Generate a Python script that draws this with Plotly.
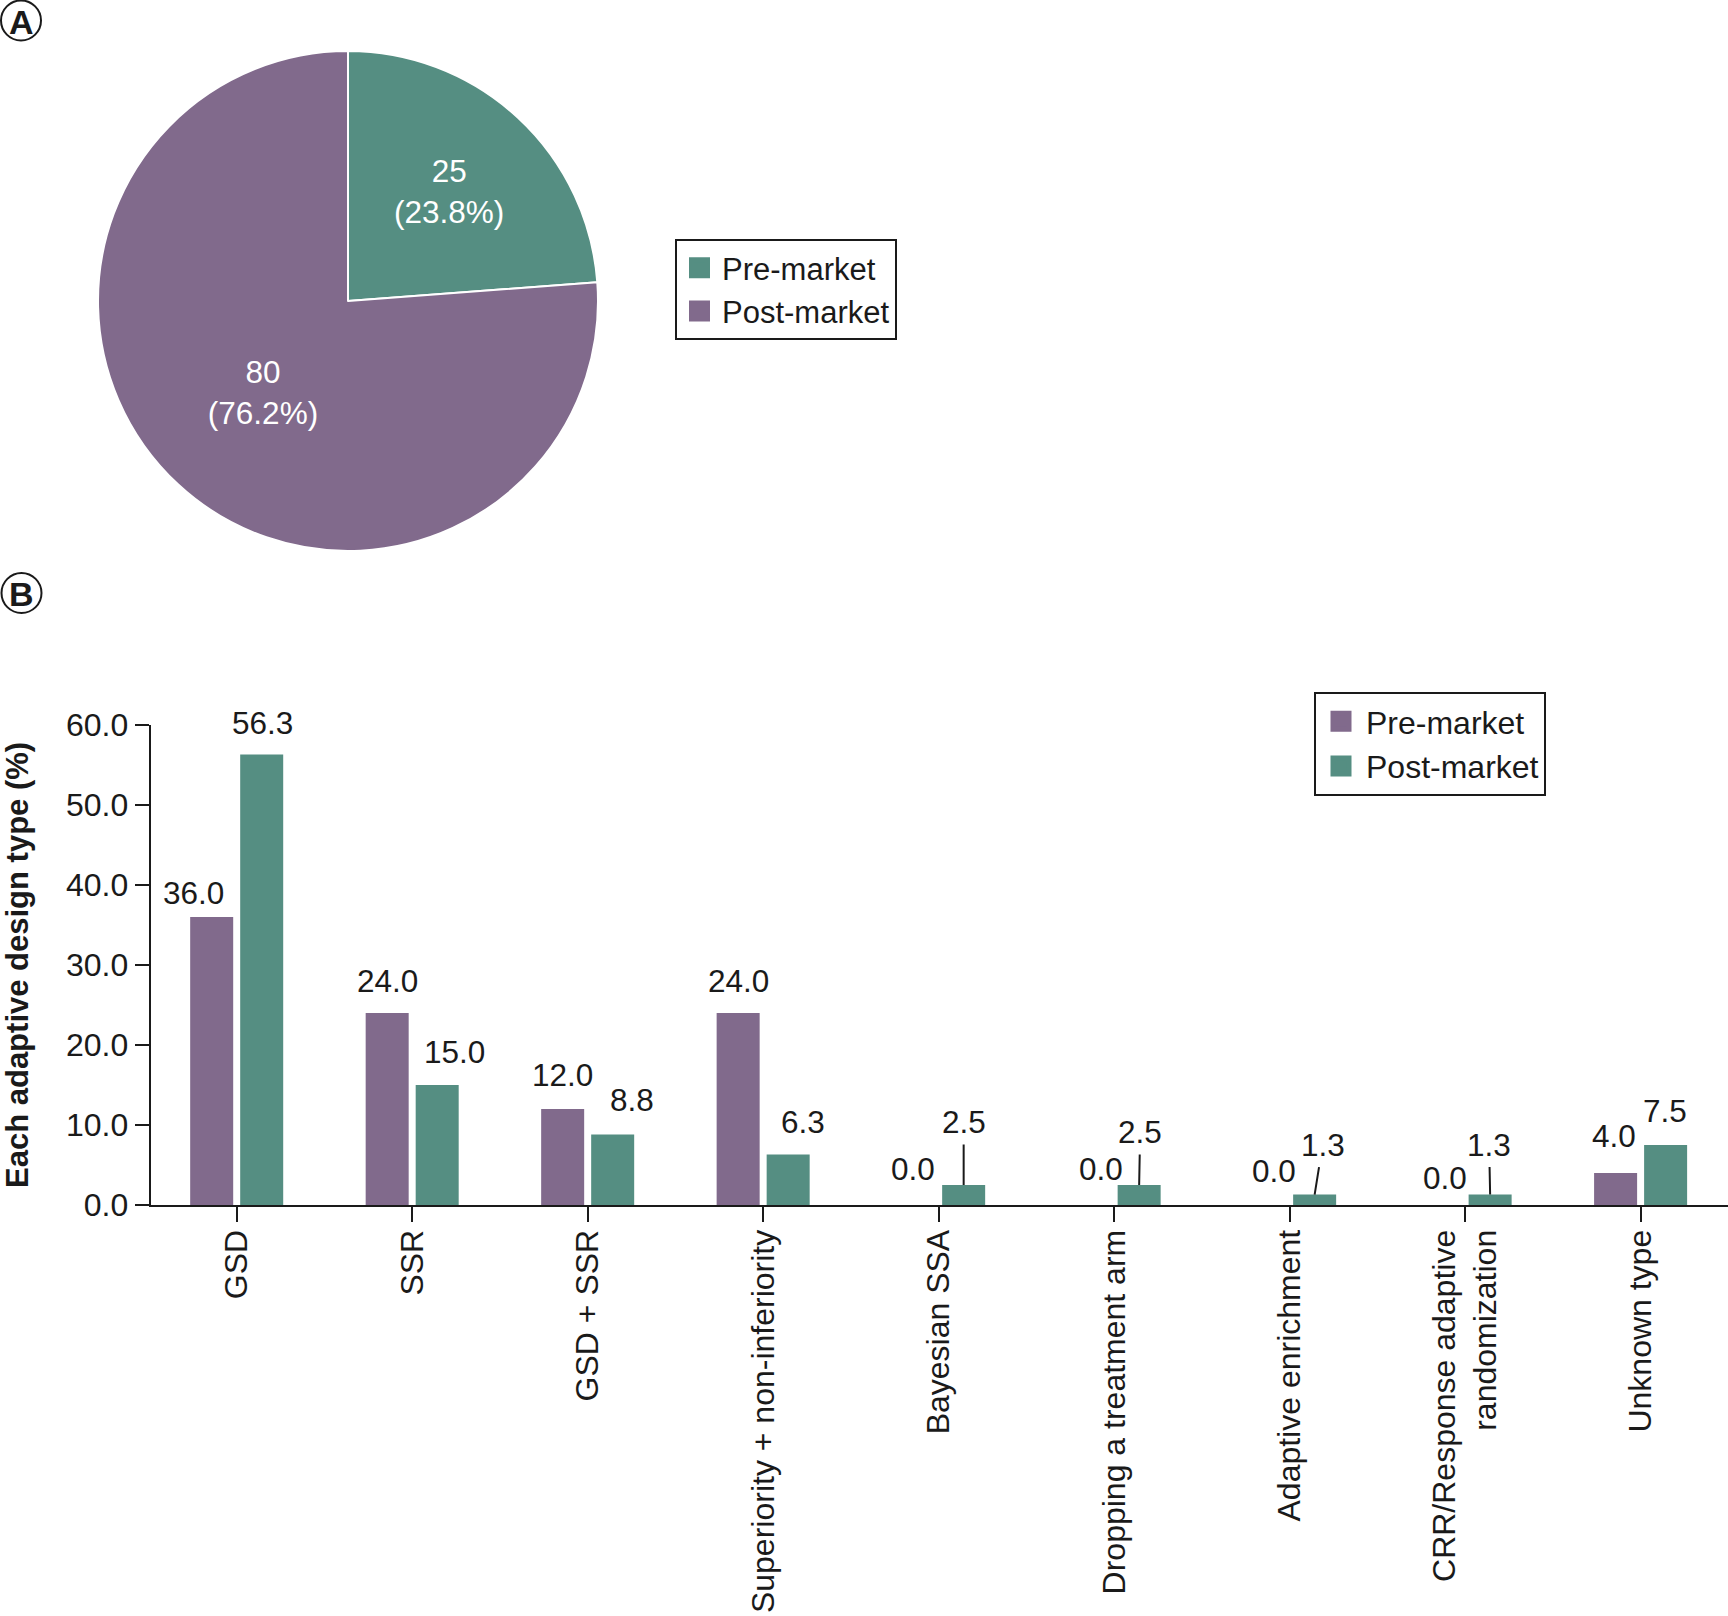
import plotly.graph_objects as go

W, H = 1728, 1616

# ---------------- data ----------------
# Panel A
pie_labels = ["Pre-market", "Post-market"]
pie_values = [25, 80]

# Panel B
categories = ["GSD", "SSR", "GSD + SSR", "Superiority + non-inferiority", "Bayesian SSA",
              "Dropping a treatment arm", "Adaptive enrichment",
              "CRR/Response adaptive<br>randomization", "Unknown type"]
pre_market = [36.0, 24.0, 12.0, 24.0, 0.0, 0.0, 0.0, 0.0, 4.0]
post_market = [56.3, 15.0, 8.8, 6.3, 2.5, 2.5, 1.3, 1.3, 7.5]
y_ticks = [0, 10, 20, 30, 40, 50, 60]
series_names = ["Pre-market", "Post-market"]
y_title = "Each adaptive design type (%)"

# ---------------- style / layout ----------------
PURPLE = "#816a8c"
GREEN = "#558e82"
INK = "#1a1a1a"
FONT = "Liberation Sans, Arial, Helvetica, sans-serif"
FS = 31.5
FS_TICK = 32

def px(x):
    return x / W

def py(y):
    return 1 - y / H

# label offsets in pixels (dx, dy) relative to bar centre / bar top
pre_offsets = [(-18, 24), (0, 32), (0, 34), (0, 32), (-1, 36), (12, 36), (9, 34), (5, 27), (-2, 37)]
post_leader = [False, False, False, False, True, True, True, True, False]
post_offsets = [(1, 32), (17, 33), (19, 35), (15, 33), (0, -63), (1, -53), (8, -50), (-1, -50), (-1, 34)]

x_dom = [150.7 / W, 1.0]
y_dom = [py(1205), py(725)]
x_range = [-0.49, 8.498]
BARGAP = 0.43
GROUPGAP = 0.14
spacing = W * (x_dom[1] - x_dom[0]) / (x_range[1] - x_range[0])
half_slot = (1 - BARGAP) * spacing / 4.0

fig = go.Figure()

# Pie (panel A)
fig.add_trace(go.Pie(
    labels=pie_labels, values=pie_values, sort=False, direction="clockwise", rotation=0,
    marker=dict(colors=[GREEN, PURPLE], line=dict(color="white", width=2)),
    texttemplate="%{value}<br>(%{percent:.1%})", textposition="inside",
    insidetextorientation="horizontal",
    textfont=dict(color="white", size=FS, family=FONT),
    domain=dict(x=[px(98), px(598)], y=[py(551), py(51)]),
    showlegend=False, hoverinfo="label+value+percent",
))

# Bars (panel B)
fig.add_trace(go.Bar(x=categories, y=pre_market, name=series_names[0],
                     marker=dict(color=PURPLE, line=dict(width=0)), showlegend=False))
fig.add_trace(go.Bar(x=categories, y=post_market, name=series_names[1],
                     marker=dict(color=GREEN, line=dict(width=0)), showlegend=False))

# Legend entries
for name, col in zip(pie_labels, [GREEN, PURPLE]):
    fig.add_trace(go.Scatter(x=[None], y=[None], mode="markers", name=name, legend="legend",
                             marker=dict(symbol="square", size=16, color=col,
                                         line=dict(color=col, width=5))))
for name, col in zip(series_names, [PURPLE, GREEN]):
    fig.add_trace(go.Scatter(x=[None], y=[None], mode="markers", name=name, legend="legend2",
                             marker=dict(symbol="square", size=16, color=col,
                                         line=dict(color=col, width=5))))

annotations = []
for i, cat in enumerate(categories):
    dx, dy = pre_offsets[i]
    annotations.append(dict(x=cat, y=pre_market[i], xref="x", yref="y",
                            text=f"{pre_market[i]:.1f}", showarrow=False,
                            xshift=-half_slot + dx, yshift=dy, yanchor="middle",
                            font=dict(size=FS, color=INK, family=FONT)))
    dx, dy = post_offsets[i]
    if post_leader[i]:
        annotations.append(dict(x=cat, y=post_market[i], xref="x", yref="y",
                                text=f"{post_market[i]:.1f}", showarrow=True,
                                arrowhead=0, arrowwidth=2, arrowcolor=INK,
                                ax=dx, ay=dy, xshift=half_slot, borderpad=4,
                                font=dict(size=FS, color=INK, family=FONT)))
    else:
        annotations.append(dict(x=cat, y=post_market[i], xref="x", yref="y",
                                text=f"{post_market[i]:.1f}", showarrow=False,
                                xshift=half_slot + dx, yshift=dy, yanchor="middle",
                                font=dict(size=FS, color=INK, family=FONT)))

# y-axis title
annotations.append(dict(x=px(17), y=py(965), xref="paper", yref="paper", text=f"<b>{y_title}</b>",
                        textangle=-90, showarrow=False, xanchor="center", yanchor="middle",
                        font=dict(size=31, color=INK, family=FONT)))
# panel letters
for letter, (cx, cy) in zip(["A", "B"], [(21, 20.5), (21.5, 593)]):
    annotations.append(dict(x=px(cx), y=py(cy + 1), xref="paper", yref="paper",
                            text=f"<b>{letter}</b>", showarrow=False,
                            xanchor="center", yanchor="middle",
                            font=dict(size=34, color=INK, family=FONT)))

shapes = []
for (cx, cy) in [(21, 20.5), (21.5, 593)]:
    r = 20
    shapes.append(dict(type="circle", xref="paper", yref="paper",
                       x0=px(cx - r), x1=px(cx + r), y0=py(cy + r), y1=py(cy - r),
                       line=dict(color=INK, width=2)))

legend_common = dict(bgcolor="white", bordercolor=INK, borderwidth=2,
                     xanchor="left", yanchor="top", itemsizing="trace",
                     orientation="v")

fig.update_layout(
    width=W, height=H, margin=dict(l=0, r=0, t=0, b=0),
    paper_bgcolor="white", plot_bgcolor="white",
    font=dict(family=FONT, size=FS, color=INK),
    barmode="group", bargap=BARGAP, bargroupgap=GROUPGAP,
    xaxis=dict(domain=x_dom, type="category", categoryorder="array", categoryarray=categories,
               range=x_range, showline=True, linecolor=INK, linewidth=2,
               ticks="outside", ticklen=15, tickwidth=2, tickcolor=INK, tickangle=-90,
               ticklabelstandoff=-5,
               tickfont=dict(size=FS_TICK, color=INK, family=FONT), showgrid=False, zeroline=False,
               automargin=False, fixedrange=True),
    yaxis=dict(domain=y_dom, range=[0, 60], tickvals=y_ticks, tickformat=".1f",
               showline=True, linecolor=INK, linewidth=2,
               ticks="outside", ticklen=14, tickwidth=2, tickcolor=INK,
               tickfont=dict(size=FS_TICK, color=INK, family=FONT), showgrid=False, zeroline=False,
               automargin=False, fixedrange=True),
    legend=dict(x=px(675), y=py(239), itemwidth=35,
                font=dict(size=31, color=INK, family=FONT), **legend_common),
    legend2=dict(x=px(1314), y=py(692), itemwidth=40, entrywidth=190, entrywidthmode="pixels",
                 font=dict(size=FS_TICK, color=INK, family=FONT), **legend_common),
    annotations=annotations, shapes=shapes,
)

fig.write_html("out.html")
